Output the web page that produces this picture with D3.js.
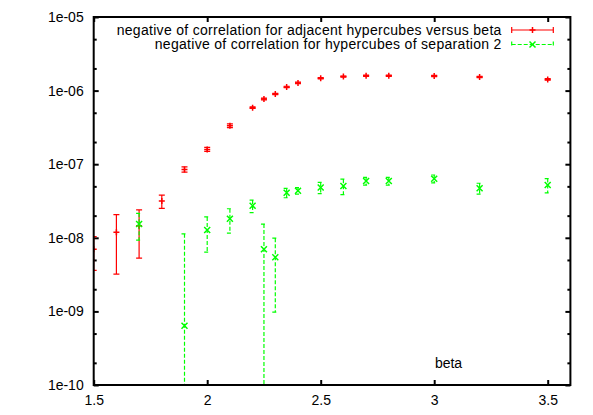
<!DOCTYPE html>
<html>
<head>
<meta charset="utf-8">
<script src="https://cdn.jsdelivr.net/npm/d3@7"></script>
<style>
  html, body { margin: 0; padding: 0; background: #fff; }
  svg { display: block; }
  text { font-family: "Liberation Sans", Arial, sans-serif; font-size: 14px; fill: #000; }
</style>
</head>
<body>
<svg id="chart" width="593" height="415"></svg>
<script>
// ---- data ----
const betaRed   = [1.5, 1.6, 1.7, 1.8, 1.9, 2.0, 2.1, 2.2, 2.25, 2.3, 2.35, 2.4, 2.5, 2.6, 2.7, 2.8, 3.0, 3.2, 3.5];
const corrRed   = [6.98e-9, 1.19e-8, 1.46e-8, 3.16e-8, 8.5e-8, 1.59e-7, 3.34e-7, 5.86e-7, 7.69e-7, 8.99e-7, 1.12e-6, 1.27e-6, 1.47e-6, 1.55e-6, 1.59e-6, 1.59e-6, 1.58e-6, 1.53e-6, 1.42e-6];
const errRed    = [3.37e-9, 0.87e-8, 0.93e-8, 0.65e-8, 0.72e-8, 1.0e-8, 2.0e-8, 1.5e-8, 2e-8, 2e-8, 2.5e-8, 3e-8, 3e-8, 3e-8, 3e-8, 3e-8, 3e-8, 3e-8, 3e-8];

const betaGreen = [1.7, 1.9, 2.0, 2.1, 2.2, 2.25, 2.3, 2.35, 2.4, 2.5, 2.6, 2.7, 2.8, 3.0, 3.2, 3.5];
const corrGreen = [1.54e-8, 6.39e-10, 1.28e-8, 1.82e-8, 2.73e-8, 6.98e-9, 5.43e-9, 4.1e-8, 4.37e-8, 4.82e-8, 5.06e-8, 5.91e-8, 5.91e-8, 6.35e-8, 4.71e-8, 5.22e-8];
const errGreen  = [0.61e-8, 1.07e-8, 0.64e-8, 0.66e-8, 0.53e-8, 0.84e-8, 0.445e-8, 0.6e-8, 0.45e-8, 0.83e-8, 1.2e-8, 0.7e-8, 0.7e-8, 0.78e-8, 0.8e-8, 1.15e-8];

const xTicks = [1.5, 2, 2.5, 3, 3.5];
const yTicks = [1e-10, 1e-9, 1e-8, 1e-7, 1e-6, 1e-5];
const yMinorTicks = [2e-10, 5e-10, 2e-9, 5e-9, 2e-8, 5e-8, 2e-7, 5e-7, 2e-6, 5e-6];
const legendLabels = ["negative of correlation for adjacent hypercubes versus beta",
                      "negative of correlation for hypercubes of separation 2"];
const xLabel = "beta";

// ---- layout ----
const L = 93.7, R = 570.4, T = 17, B = 385;
const svg = d3.select("#chart");
const x = d3.scaleLinear().domain([1.5, 3.6]).range([L, R]);
const y = d3.scaleLog().domain([1e-10, 1e-5]).range([B, T]);

const fmt = d => { const e = Math.round(Math.log10(d)); return "1e" + (e < 0 ? "-" : "+") + String(Math.abs(e)).padStart(2, "0"); };

svg.append("defs").append("clipPath").attr("id", "clip")
  .append("rect").attr("x", L).attr("y", T).attr("width", R - L).attr("height", B - T);

function styleAxis(g) {
  g.select(".domain").remove();
  g.selectAll(".tick line").attr("stroke", "#000").attr("stroke-width", 2);
  g.selectAll(".tick text").style("font-size", "14px").attr("fill", "#000");
}

// bottom axis
svg.append("g").attr("transform", `translate(0,${B})`)
  .call(d3.axisBottom(x).tickValues(xTicks).tickFormat(d3.format("")).tickSizeInner(-5).tickSizeOuter(0).tickPadding(10))
  .call(styleAxis);
// top axis (mirror ticks)
svg.append("g").attr("transform", `translate(0,${T})`)
  .call(d3.axisTop(x).tickValues(xTicks).tickFormat("").tickSizeInner(-5).tickSizeOuter(0))
  .call(styleAxis);
// left axis
svg.append("g").attr("transform", `translate(${L},0)`)
  .call(d3.axisLeft(y).tickValues(yTicks).tickFormat(fmt).tickSizeInner(-5).tickSizeOuter(0).tickPadding(10))
  .call(styleAxis);
svg.append("g").attr("transform", `translate(${L},0)`)
  .call(d3.axisLeft(y).tickValues(yMinorTicks).tickFormat("").tickSizeInner(-3).tickSizeOuter(0))
  .call(styleAxis);
// right axis
svg.append("g").attr("transform", `translate(${R},0)`)
  .call(d3.axisRight(y).tickValues(yTicks).tickFormat("").tickSizeInner(-5).tickSizeOuter(0))
  .call(styleAxis);
svg.append("g").attr("transform", `translate(${R},0)`)
  .call(d3.axisRight(y).tickValues(yMinorTicks).tickFormat("").tickSizeInner(-3).tickSizeOuter(0))
  .call(styleAxis);

// error bars
function drawSeries(xs, vs, es, color, dash, symbol) {
  const g = svg.append("g").attr("clip-path", "url(#clip)");
  const cap = 3, s = 3;
  xs.forEach((bx, i) => {
    const cx = x(bx), cy = y(vs[i]);
    const hi = vs[i] + es[i], lo = vs[i] - es[i];
    const yHi = y(hi);
    const yLo = lo > 0 ? y(lo) : B + 5;
    const p = d3.path();
    p.moveTo(cx, yHi); p.lineTo(cx, yLo);
    p.moveTo(cx - cap, yHi); p.lineTo(cx + cap, yHi);
    if (lo > 0) { p.moveTo(cx - cap, yLo); p.lineTo(cx + cap, yLo); }
    g.append("path").attr("d", p.toString()).attr("fill", "none")
      .attr("stroke", color).attr("stroke-width", 1.2).attr("stroke-dasharray", dash);
    const q = d3.path();
    if (symbol === "plus") {
      q.moveTo(cx - s, cy); q.lineTo(cx + s, cy); q.moveTo(cx, cy - s); q.lineTo(cx, cy + s);
    } else {
      q.moveTo(cx - s, cy - s); q.lineTo(cx + s, cy + s); q.moveTo(cx - s, cy + s); q.lineTo(cx + s, cy - s);
    }
    g.append("path").attr("d", q.toString()).attr("fill", "none").attr("stroke", color).attr("stroke-width", 1.5);
  });
}
drawSeries(betaRed, corrRed, errRed, "#ff0000", null, "plus");
drawSeries(betaGreen, corrGreen, errGreen, "#00ff00", "4,2", "x");

// border
svg.append("rect").attr("x", L).attr("y", T).attr("width", R - L).attr("height", B - T)
  .attr("fill", "none").attr("stroke", "#000").attr("stroke-width", 2);

// legend
const legY = [30, 44.5];
const legColors = ["#ff0000", "#00ff00"];
const legDash = [null, "4,2"];
const lx0 = 511.7, lx1 = 553.3;
legendLabels.forEach((t, i) => {
  svg.append("text").attr("x", 501.7).attr("y", legY[i]).attr("dy", "0.35em")
    .attr("text-anchor", "end").style("letter-spacing", "0.3px").text(t);
  const p = d3.path();
  p.moveTo(lx0, legY[i]); p.lineTo(lx1, legY[i]);
  p.moveTo(lx0, legY[i] - 3); p.lineTo(lx0, legY[i] + 3);
  p.moveTo(lx1, legY[i] - 3); p.lineTo(lx1, legY[i] + 3);
  svg.append("path").attr("d", p.toString()).attr("fill", "none").attr("stroke", legColors[i])
    .attr("stroke-width", 1.2).attr("stroke-dasharray", legDash[i]);
  const cx = (lx0 + lx1) / 2, cy = legY[i], s = 3;
  const q = d3.path();
  if (i === 0) { q.moveTo(cx - s, cy); q.lineTo(cx + s, cy); q.moveTo(cx, cy - s); q.lineTo(cx, cy + s); }
  else { q.moveTo(cx - s, cy - s); q.lineTo(cx + s, cy + s); q.moveTo(cx - s, cy + s); q.lineTo(cx + s, cy - s); }
  svg.append("path").attr("d", q.toString()).attr("fill", "none").attr("stroke", legColors[i]).attr("stroke-width", 1.5);
});

// x label inside plot
svg.append("text").attr("x", 448.5).attr("y", 368).attr("text-anchor", "middle").text(xLabel);
</script>
</body>
</html>
